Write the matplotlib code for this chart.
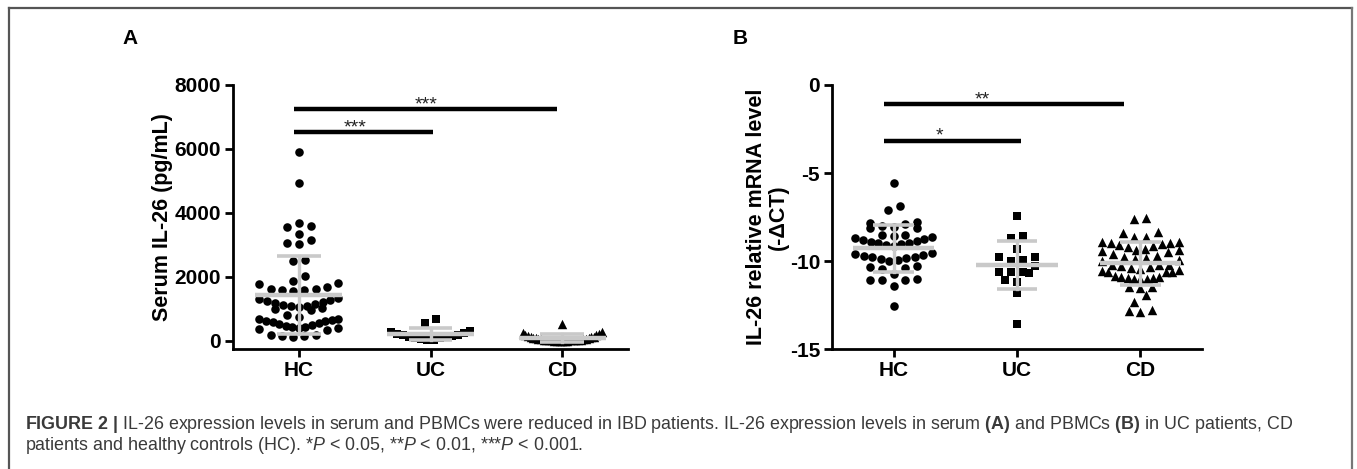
import numpy as np
import matplotlib
matplotlib.use("Agg")
from matplotlib import pyplot as plt
from matplotlib.lines import Line2D

plt.rcParams['font.family'] = ['Liberation Sans', 'DejaVu Sans']
plt.rcParams['mathtext.fontset'] = 'custom'
plt.rcParams['mathtext.rm'] = 'Liberation Sans'
plt.rcParams['mathtext.it'] = 'Liberation Sans:italic'
plt.rcParams['mathtext.bf'] = 'Liberation Sans:bold'
plt.rcParams['axes.unicode_minus'] = False

groups = ["HC", "UC", "CD"]
markers = ["o", "s", "^"]

# panel A: serum IL-26 (pg/mL)
serum_hc = [5900, 4950, 3680, 3580, 3560, 3350, 3150, 3050, 3030, 2520, 2500,
            2020, 1880, 1820, 1780, 1700, 1640, 1620, 1600, 1580, 1560,
            1330, 1300, 1280, 1250, 1220, 1200, 1170, 1140, 1100, 1080, 1050, 1020, 1000, 980,
            800, 750, 700, 680, 650, 640, 620, 600, 560, 520, 500, 480, 450,
            450, 420, 400, 380, 350, 200, 180, 160, 150, 130]
serum_uc = [700, 570, 300, 280, 260, 230, 200, 180, 160, 140, 120, 100, 80, 60, 40, 20]
serum_cd = [530, 280, 250, 220, 200, 180, 160, 140, 120, 110, 100, 90, 80, 70, 60, 55,
            50, 45, 40, 35, 30, 28, 25, 22, 20, 18, 15, 12, 10, 8, 5, 3]

# panel B: IL-26 relative mRNA level (-dCT)
mrna_hc = [-5.55, -6.85, -7.1,
           -7.8, -7.85, -7.9, -8.0, -8.05, -8.1, -8.15,
           -8.5, -8.55, -8.6, -8.65, -8.7, -8.75, -8.8, -8.85, -8.9, -8.95, -9.0, -9.05, -9.1, -9.15,
           -9.55, -9.6, -9.65, -9.7, -9.75, -9.8, -9.85, -9.9, -9.95, -10.0,
           -10.3, -10.35, -10.4, -10.45,
           -10.75, -11.05, -11.08, -11.1, -11.1, -11.4, -12.55]
mrna_uc = [-7.45, -8.6, -8.7, -9.3, -9.75, -9.8, -9.95, -10.0, -10.3, -10.6, -10.6,
           -10.6, -10.7, -11.1, -11.2, -11.8, -13.6]
mrna_cd = [-7.58, -7.63, -8.33, -8.4, -8.65, -8.65,
           -8.9, -8.9, -8.95, -9.0, -9.05, -9.1, -9.15, -9.2, -9.3, -9.35, -9.4, -9.45, -9.5, -9.6, -9.7, -9.75,
           -9.85, -9.9, -9.95, -10.0,
           -10.2, -10.2, -10.25, -10.3, -10.35, -10.4, -10.45, -10.5, -10.55, -10.6, -10.6, -10.65,
           -10.85, -10.9, -10.9, -10.95, -10.95, -11.0, -11.0, -11.0,
           -11.5, -11.5, -11.55, -11.93, -12.35, -12.76, -12.85, -12.9]

# significance brackets: (x0, x1, y, label, label x)
sig_a = [(0.96, 2.02, 6530, "***", 1.43), (0.96, 2.96, 7250, "***", 1.97)]
sig_b = [(0.92, 2.03, -3.18, "*", 1.37), (0.92, 2.87, -1.08, "**", 1.72)]

GRAY = "#c9c9c9"


def swarm(vals, binsize, step, maxhalf):
    vals = np.asarray(vals, float)
    order = np.argsort(vals)
    bins, cur = [], []
    for i in order:
        if cur and vals[i] - vals[cur[0]] > binsize:
            bins.append(cur)
            cur = []
        cur.append(i)
    bins.append(cur)
    xs = np.zeros(len(vals))
    for b in bins:
        n = len(b)
        st = step if (n - 1) * step / 2 <= maxhalf else 2 * maxhalf / (n - 1)
        offs = (np.arange(n) - (n - 1) / 2) * st
        offs = offs[np.argsort(np.abs(offs), kind="stable")]
        for k, i in enumerate(b):
            xs[i] = offs[k]
    return xs


def panel(ax, data, binsize, step, maxhalf):
    for k, (vals, m) in enumerate(zip(data, markers)):
        xs = swarm(vals, binsize, step, maxhalf) + k + 1
        ax.scatter(xs, vals, marker=m, s=38 if m != "^" else 46, c="black",
                   linewidths=0, zorder=2)
        mu, sd = np.mean(vals), np.std(vals, ddof=1)
        ax.plot([k + 1 - 0.33, k + 1 + 0.33], [mu, mu], color=GRAY, lw=3.2,
                solid_capstyle="butt", zorder=3)
        ax.plot([k + 1, k + 1], [mu - sd, mu + sd], color=GRAY, lw=2.4, zorder=3)
        for yy in (mu - sd, mu + sd):
            ax.plot([k + 1 - 0.165, k + 1 + 0.165], [yy, yy], color=GRAY, lw=2.6,
                    solid_capstyle="butt", zorder=3)
    ax.set_xlim(0.5, 3.5)
    ax.set_xticks([1, 2, 3])
    ax.set_xticklabels(groups)
    for s in ("top", "right"):
        ax.spines[s].set_visible(False)
    for s in ("left", "bottom"):
        ax.spines[s].set_linewidth(2)
    ax.tick_params(direction="out", length=5.5, width=2, labelsize=15, pad=3)
    for t in ax.get_xticklabels() + ax.get_yticklabels():
        t.set_fontweight("bold")


def brackets(ax, sig):
    for x0, x1, y, lab, xl in sig:
        ax.plot([x0, x1], [y, y], color="black", lw=3.2, solid_capstyle="butt")
        ax.annotate(lab, (xl, y), xytext=(0, 0), textcoords="offset points",
                    ha="center", va="baseline", fontsize=14, color="#222222")


fig = plt.figure(figsize=(13.57, 4.69), dpi=100)

axA = fig.add_axes([233 / 1357, 1 - 349 / 469, 395 / 1357, 264 / 469])
panel(axA, [serum_hc, serum_uc, serum_cd], 280, 0.089, 0.30)
axA.set_ylim(-250, 8000)
axA.set_yticks([0, 2000, 4000, 6000, 8000])
axA.set_ylabel("Serum IL-26 (pg/mL)", fontsize=15.5, fontweight="bold", labelpad=1)
brackets(axA, sig_a)

axB = fig.add_axes([832 / 1357, 1 - 349 / 469, 370 / 1357, 264 / 469])
panel(axB, [mrna_hc, mrna_uc, mrna_cd], 0.5, 0.095, 0.31)
axB.set_ylim(-15, 0)
axB.set_yticks([-15, -10, -5, 0])
axB.set_ylabel("IL-26 relative mRNA level\n(-ΔCT)", fontsize=15.5, fontweight="bold",
               labelpad=1, linespacing=1.0)
brackets(axB, sig_b)

fig.text(130 / 1357, 1 - 38 / 469, "A", fontsize=15, fontweight="bold", ha="center", va="center")
fig.text(740 / 1357, 1 - 38 / 469, "B", fontsize=15, fontweight="bold", ha="center", va="center")

cap1 = (r"$\mathbf{FIGURE\ 2\ |}$ IL-26 expression levels in serum and PBMCs were reduced in IBD "
        r"patients. IL-26 expression levels in serum $\mathbf{(A)}$ and PBMCs $\mathbf{(B)}$ in UC patients, CD")
cap2 = r"patients and healthy controls (HC). *$P$ < 0.05, **$P$ < 0.01, ***$P$ < 0.001."
fig.text(25 / 1357, 1 - 429 / 469, cap1, fontsize=12.9, color="#3a3a3a", va="baseline")
fig.text(25 / 1357, 1 - 450 / 469, cap2, fontsize=12.9, color="#3a3a3a", va="baseline")

# frame around the figure
for xs, ys, c in [((8.5, 8.5), (0, 461), "#555555"),
                  ((8.5, 1351.5), (461, 461), "#555555"),
                  ((1351.5, 1351.5), (461, 0), "#777777")]:
    fig.add_artist(Line2D([x / 1357 for x in xs], [y / 469 for y in ys],
                          transform=fig.transFigure, color=c, lw=1.6))

fig.savefig("out.png", dpi=100)
